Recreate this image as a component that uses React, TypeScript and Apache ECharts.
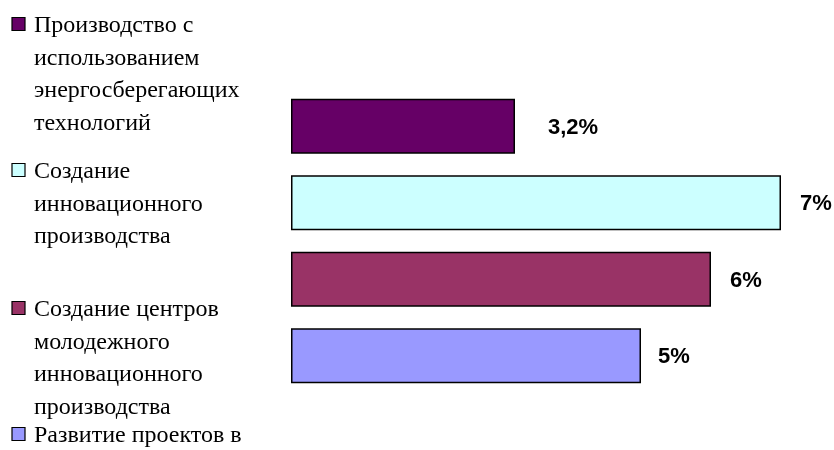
import React, { useEffect, useRef } from "react";
import * as echarts from "echarts";

// ---- data ----
const categories = ["Производство", "Создание", "Центры", "Развитие"];
const seriesNames = [
  "Производство с использованием энергосберегающих технологий",
  "Создание инновационного производства",
  "Создание центров молодежного инновационного производства",
  "Развитие проектов в",
];
const legendLabels = [
  "Производство с\nиспользованием\nэнергосберегающих\nтехнологий",
  "Создание\nинновационного\nпроизводства",
  "Создание центров\nмолодежного\nинновационного\nпроизводства",
  "Развитие проектов в",
];
const values = [3.2, 7, 6, 5];
const colors = ["#660066", "#CCFFFF", "#993366", "#9999FF"];

// ---- layout ----
const legendTops = [24, 170, 308, 434];
const LINE_H = 32.5;
const labelDistances = [33, 19, 19, 17];

export default function App() {
  const ref = useRef<HTMLDivElement>(null);
  useEffect(() => {
    if (!ref.current) return;
    const chart = echarts.init(ref.current, null, { renderer: "svg" });

    const series = values.map((v, i) => ({
      type: "bar",
      name: seriesNames[i],
      stack: "all",
      barWidth: 55,
      data: values.map((_, j) =>
        j === i
          ? {
              value: v,
              label: { distance: labelDistances[i] },
            }
          : "-"
      ),
      itemStyle: { color: colors[i], borderColor: "#000", borderWidth: 1.5 },
      label: {
        show: true,
        position: "right",
        formatter: (p: any) => String(p.value).replace(".", ",") + "%",
        fontWeight: "bold",
        fontSize: 22,
        color: "#000",
      },
    }));

    const graphic: any[] = legendLabels.map((_, i) => ({
      type: "rect",
      shape: { x: 12, y: legendTops[i] - 6.5, width: 13, height: 13 },
      style: { fill: colors[i], stroke: "#000", lineWidth: 1.2 },
    }));

    const titles = legendLabels.map((txt, i) => ({
      text: txt,
      left: 34,
      top: legendTops[i] - LINE_H / 2,
      padding: 0,
      textStyle: {
        fontFamily: "Times New Roman",
        fontSize: 24,
        fontWeight: "normal",
        lineHeight: LINE_H,
        color: "#000",
      },
    }));

    chart.setOption({
      animation: false,
      title: titles,
      grid: { left: 291, top: 88, width: 525, height: 306 },
      xAxis: {
        type: "value",
        min: 0,
        max: 7.5,
        show: false,
        splitLine: { show: false },
      },
      yAxis: {
        type: "category",
        data: categories,
        inverse: true,
        show: false,
      },
      series,
      graphic,
    });
    return () => chart.dispose();
  }, []);
  return (
    <div
      ref={ref}
      style={{ position: "fixed", left: 0, top: 0, width: 834, height: 450 }}
    />
  );
}
